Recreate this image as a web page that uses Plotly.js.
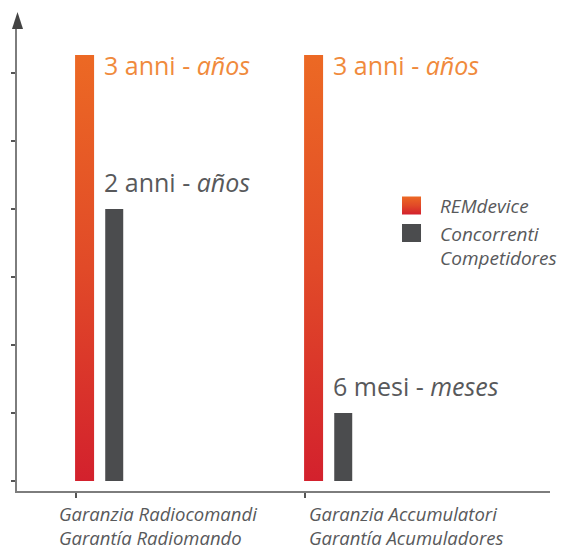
<!DOCTYPE html>
<html>
<head>
<meta charset="utf-8">
<script src="https://cdn.plot.ly/plotly-3.0.1.min.js"></script>
<style>html,body{margin:0;padding:0;background:#fff;}#chart{width:562px;height:551px;}</style>
</head>
<body>
<div id="chart"></div>
<script>
// ---- data (months; ticks every 6 months) ----
const categories = ['Garanzia Radiocomandi<br>Garantía Radiomando', 'Garanzia Accumulatori<br>Garantía Acumuladores'];
const seriesNames = ['REMdevice', 'Concorrenti<br>Competidores'];
const remdevice = [37.6, 37.6];
const concorrenti = [24, 6];
const remLabels = ['3 anni - <i>años</i>', '3 anni - <i>años</i>'];
const compLabels = ['2 anni - <i>años</i>', '6 mesi - <i>meses</i>'];
const yTicks = [0, 6, 12, 18, 24, 30, 36];

const FONT = '"Open Sans", Roboto, sans-serif';
const GRAY = '#4b4c4e';
const TXT = '#58595b';
const ORANGE_TXT = '#f08a3c';

const xRange = [-0.2576, 2.0699];
const yRange = [-0.882, 40.68];

const traces = [
  {type: 'bar', name: seriesNames[0], x: categories, y: remdevice,
   offset: -0.004, width: 0.083, marker: {color: '#e4502a', line: {width: 0}}, hoverinfo: 'skip'},
  {type: 'bar', name: seriesNames[1], x: categories, y: concorrenti,
   offset: 0.1277, width: 0.0786, marker: {color: GRAY, line: {width: 0}}, hoverinfo: 'skip'}
];

const annotations = [];
categories.forEach((c, i) => {
  annotations.push({x: c, y: remdevice[i], xref: 'x', yref: 'y', text: remLabels[i],
    showarrow: false, xanchor: 'left', yanchor: 'middle', xshift: 26, yshift: -10,
    font: {family: FONT, size: 25, color: ORANGE_TXT}});
  annotations.push({x: c, y: concorrenti[i], xref: 'x', yref: 'y', text: compLabels[i],
    showarrow: false, xanchor: 'left', yanchor: 'middle', xshift: 26, yshift: 27,
    font: {family: FONT, size: 25, color: TXT}});
});
const catShift = [-19, 2];
categories.forEach((c, i) => {
  annotations.push({x: c, y: 0, xref: 'x', yref: 'paper', text: '<i>' + c + '</i>',
    showarrow: false, xanchor: 'left', yanchor: 'top', yshift: -8, xshift: catShift[i], align: 'left',
    font: {family: FONT, size: 18.5, color: TXT}});
});

const layout = {
  width: 562, height: 551,
  margin: {l: 17, r: 12, t: 20, b: 60, pad: 0, autoexpand: false},
  paper_bgcolor: '#fff', plot_bgcolor: '#fff',
  barmode: 'overlay',
  showlegend: true,
  legend: {x: 0.6867, xanchor: 'left', y: 0.6464, yanchor: 'top',
    bgcolor: 'rgba(0,0,0,0)', itemwidth: 47, valign: 'top', traceorder: 'normal',
    font: {family: FONT, size: 19, color: TXT, style: 'italic'}},
  font: {family: FONT},
  xaxis: {type: 'category', range: xRange, showgrid: false, zeroline: false,
    showline: true, linecolor: '#7d7d7d', linewidth: 2,
    ticks: 'outside', ticklen: 5, tickwidth: 1.5, tickcolor: '#555', showticklabels: false, fixedrange: true},
  xaxis2: {overlaying: 'x', anchor: 'y', range: xRange, showgrid: false, zeroline: false, showline: false,
    tickmode: 'array', tickvals: [0, 1], ticks: 'inside', ticklen: 3, tickwidth: 1.5, tickcolor: '#555', showticklabels: false},
  yaxis: {range: yRange, showgrid: false, zeroline: false, showline: true, linecolor: '#7d7d7d', linewidth: 2,
    tickmode: 'array', tickvals: yTicks, ticks: 'outside', ticklen: 4, tickwidth: 1.5, tickcolor: '#555',
    showticklabels: false, fixedrange: true},
  yaxis2: {overlaying: 'y', anchor: 'x', range: yRange, showgrid: false, zeroline: false, showline: false,
    tickmode: 'array', tickvals: yTicks, ticks: 'inside', ticklen: 4, tickwidth: 1.5, tickcolor: '#555',
    showticklabels: false},
  shapes: [
    {type: 'path', xref: 'paper', yref: 'paper',
     path: 'M0.00094,1.017 L-0.0094,0.9809 L0.0113,0.9809 Z',
     fillcolor: '#444', line: {width: 0}}
  ],
  annotations: annotations
};

Plotly.newPlot('chart', traces, layout, {staticPlot: true, displayModeBar: false}).then(gd => {
  const svgNS = 'http://www.w3.org/2000/svg';
  const defs = gd.querySelector('.main-svg defs');
  const grad = document.createElementNS(svgNS, 'linearGradient');
  grad.setAttribute('id', 'remgrad');
  grad.setAttribute('x1', '0'); grad.setAttribute('y1', '0');
  grad.setAttribute('x2', '0'); grad.setAttribute('y2', '1');
  [['0', '#ec6924'], ['0.5', '#e14a28'], ['1', '#d3212d']].forEach(([o, c]) => {
    const s = document.createElementNS(svgNS, 'stop');
    s.setAttribute('offset', o); s.setAttribute('stop-color', c);
    grad.appendChild(s);
  });
  defs.appendChild(grad);
  const barTraces = gd.querySelectorAll('.barlayer .trace');
  if (barTraces[0]) barTraces[0].querySelectorAll('path').forEach(p => { p.style.fill = 'url(#remgrad)'; });
  const legItems = gd.querySelectorAll('.legend .traces');
  legItems.forEach((it, i) => {
    it.querySelectorAll('.legendpoints path').forEach(p => {
      p.setAttribute('d', 'M9.5,9H-9.5V-9H9.5Z');
      if (i === 0) p.style.fill = 'url(#remgrad)';
    });
  });
});
</script>
</body>
</html>
